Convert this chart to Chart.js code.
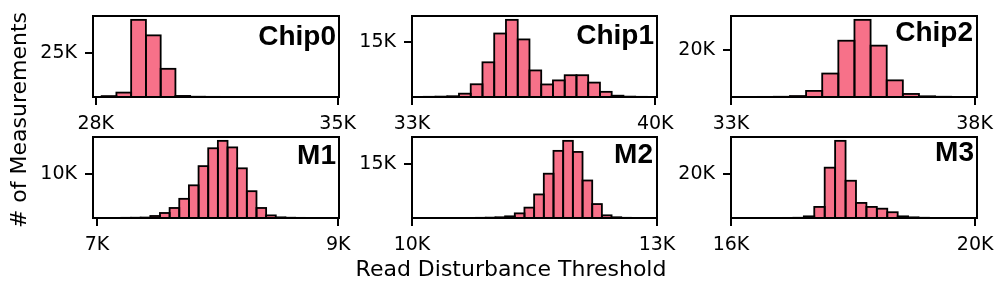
<!DOCTYPE html>
<html><head><meta charset="utf-8">
<script src="https://cdn.jsdelivr.net/npm/chart.js@4.4.1/dist/chart.umd.min.js"></script>
<style>
html,body{margin:0;padding:0;background:#fff;}
#wrap{position:relative;width:997px;height:285px;overflow:hidden;background:#fff;}
#wrap canvas{position:absolute;}
.lbl{position:absolute;font-family:'Liberation Sans',Arial,sans-serif;font-weight:bold;font-size:28px;line-height:28px;white-space:nowrap;color:#000;}
.ttl{position:absolute;font-family:'DejaVu Sans',sans-serif;font-size:22px;line-height:22px;white-space:nowrap;color:#000;text-align:center;}
</style></head>
<body><div id="wrap"></div>
<script>
// ---------- data (thresholds in K, counts = # of measurements) ----------
const panelNames = ['Chip0', 'Chip1', 'Chip2', 'M1', 'M2', 'M3'];

const chip0Bins = [28.384, 28.811, 29.238, 29.665, 30.092, 30.519, 30.946, 31.373, 31.800, 32.227, 32.654, 33.081, 33.508, 33.935, 34.362, 34.789];
const chip0Counts = [500, 2500, 43800, 35000, 16000, 600, 150, 80, 60, 40, 30, 20, 15, 10, 8, 5];
const chip0XTicks = [28, 35];
const chip0YTicks = [25000];

const chip1Bins = [33.169, 33.507, 33.845, 34.183, 34.521, 34.859, 35.197, 35.535, 35.873, 36.211, 36.549, 36.887, 37.225, 37.563, 37.901, 38.239, 38.577, 38.915, 39.253, 39.591];
const chip1Counts = [20, 50, 100, 200, 900, 3450, 9400, 17200, 20900, 15600, 7200, 3400, 4500, 5900, 5900, 3900, 1400, 350, 100, 40];
const chip1XTicks = [33, 40];
const chip1YTicks = [15000];

const chip2Bins = [33.383, 33.714, 34.045, 34.376, 34.707, 35.038, 35.369, 35.700, 36.031, 36.362, 36.693, 37.024, 37.355, 37.686];
const chip2Counts = [20, 50, 100, 400, 2600, 10000, 24000, 32900, 21900, 7100, 1300, 300, 100, 30];
const chip2XTicks = [33, 38];
const chip2YTicks = [20000];

const m1Bins = [7.082, 7.162, 7.242, 7.322, 7.402, 7.482, 7.562, 7.642, 7.722, 7.802, 7.882, 7.962, 8.042, 8.122, 8.202, 8.282, 8.362, 8.442, 8.522, 8.602, 8.682, 8.762, 8.842];
const m1Counts = [10, 20, 40, 60, 100, 460, 1150, 2300, 4400, 7500, 11900, 16000, 17700, 16200, 11400, 6150, 2300, 600, 150, 60, 30, 15, 5];
const m1XTicks = [7, 9];
const m1YTicks = [10000];

const m2Bins = [10.2513, 10.3698, 10.4883, 10.6068, 10.7253, 10.8438, 10.9623, 11.0808, 11.1993, 11.3178, 11.4363, 11.5548, 11.6733, 11.7918, 11.9103, 12.0288, 12.1473, 12.2658, 12.3843, 12.5028, 12.6213];
const m2Counts = [5, 10, 15, 20, 30, 50, 100, 200, 470, 1300, 2900, 6600, 12400, 18800, 21600, 18500, 10500, 3900, 750, 200, 50];
const m2XTicks = [10, 13];
const m2YTicks = [15000];

const m3Bins = [16.7664, 16.9372, 17.1080, 17.2788, 17.4496, 17.6204, 17.7912, 17.9620, 18.1328, 18.3036, 18.4744, 18.6452, 18.8160, 18.9868, 19.1576];
const m3Counts = [20, 50, 100, 750, 5000, 22700, 34800, 16800, 6800, 5000, 4200, 2600, 750, 300, 100];
const m3XTicks = [16, 20];
const m3YTicks = [20000];

const xAxisTitle = 'Read Disturbance Threshold';
const yAxisTitle = '# of Measurements';

// ---------- layout / style ----------
const colLeft = [93, 412, 731], colRight = [339, 657, 977];
const rowTop = [16, 137], rowBottom = [97, 218];
const PADL = 80, PADT = 26, PADR = 38, PADB = 42;
const TICK_LEN = 8;
const BAR_COLOR = '#F77189';

const panels = [
  {name: panelNames[0], bins: chip0Bins, counts: chip0Counts, xTicks: chip0XTicks, yTicks: chip0YTicks, xMin: 27.92, xMax: 35.04, col: 0, row: 0, lblRight: 336, lblBase: 46},
  {name: panelNames[1], bins: chip1Bins, counts: chip1Counts, xTicks: chip1XTicks, yTicks: chip1YTicks, xMin: 33.0, xMax: 40.05, col: 1, row: 0, lblRight: 654, lblBase: 45},
  {name: panelNames[2], bins: chip2Bins, counts: chip2Counts, xTicks: chip2XTicks, yTicks: chip2YTicks, xMin: 33.0, xMax: 38.05, col: 2, row: 0, lblRight: 973, lblBase: 42},
  {name: panelNames[3], bins: m1Bins, counts: m1Counts, xTicks: m1XTicks, yTicks: m1YTicks, xMin: 6.967, xMax: 9.006, col: 0, row: 1, lblRight: 336, lblBase: 165},
  {name: panelNames[4], bins: m2Bins, counts: m2Counts, xTicks: m2XTicks, yTicks: m2YTicks, xMin: 10.0, xMax: 13.0, col: 1, row: 1, lblRight: 653, lblBase: 164},
  {name: panelNames[5], bins: m3Bins, counts: m3Counts, xTicks: m3XTicks, yTicks: m3YTicks, xMin: 16.0, xMax: 20.03, col: 2, row: 1, lblRight: 974, lblBase: 162}
];

function makeOutlinePlugin(p) {
  return {
    id: 'outline',
    afterDatasetsDraw(chart) {
      const ctx = chart.ctx, a = chart.chartArea;
      // bar edges (centred on the bar outline, like a histogram edge)
      ctx.save();
      ctx.beginPath();
      ctx.rect(a.left, a.top - 2, a.right - a.left, a.bottom - a.top + 2);
      ctx.clip();
      ctx.lineWidth = 1.8;
      ctx.strokeStyle = '#000';
      chart.getDatasetMeta(0).data.forEach(el => {
        const q = el.getProps(['x', 'y', 'base', 'width'], true);
        ctx.strokeRect(q.x - q.width / 2, q.y, q.width, q.base - q.y);
      });
      ctx.restore();
    },
    afterDraw(chart) {
      const ctx = chart.ctx, a = chart.chartArea;
      ctx.save();
      ctx.lineWidth = 2;
      ctx.strokeStyle = '#000';
      ctx.strokeRect(a.left, a.top, a.right - a.left, a.bottom - a.top);
      const xs = chart.scales.x, ys = chart.scales.y;
      ctx.fillStyle = '#000';
      p.xTicks.forEach(v => {
        const px = Math.round(xs.getPixelForValue(v));
        ctx.fillRect(px - 1, a.bottom, 2, TICK_LEN);
      });
      p.yTicks.forEach(v => {
        const py = Math.round(ys.getPixelForValue(v));
        ctx.fillRect(a.left - TICK_LEN, py - 1, TICK_LEN, 2);
      });
      ctx.restore();
    }
  };
}

const wrap = document.getElementById('wrap');
const tickFont = {family: "'DejaVu Sans', sans-serif", size: 19};

panels.forEach(p => {
  const L = colLeft[p.col], R = colRight[p.col], T = rowTop[p.row], B = rowBottom[p.row];
  const w = R - L + PADL + PADR, h = B - T + PADT + PADB;
  const cv = document.createElement('canvas');
  cv.width = w; cv.height = h;
  cv.style.left = (L - PADL) + 'px';
  cv.style.top = (T - PADT) + 'px';
  cv.style.width = w + 'px';
  cv.style.height = h + 'px';
  wrap.appendChild(cv);

  new Chart(cv, {
    type: 'bar',
    data: {
      datasets: [{
        data: p.bins.map((b, i) => ({x: b, y: p.counts[i]})),
        backgroundColor: BAR_COLOR,
        borderWidth: 0,
        barPercentage: 1,
        categoryPercentage: 1
      }]
    },
    options: {
      responsive: false,
      animation: false,
      devicePixelRatio: 1,
      layout: {padding: {left: 0, top: PADT, right: PADR, bottom: 0}},
      plugins: {legend: {display: false}, tooltip: {enabled: false}},
      scales: {
        x: {
          type: 'linear', min: p.xMin, max: p.xMax, offset: false,
          afterBuildTicks: s => { s.ticks = p.xTicks.map(v => ({value: v})); },
          afterFit: s => { s.height = PADB; },
          ticks: {callback: v => v + 'K', font: tickFont, color: '#000', padding: 8, maxRotation: 0, autoSkip: false},
          grid: {display: false, offset: false, drawOnChartArea: false, drawTicks: true, tickLength: TICK_LEN},
          border: {display: false}
        },
        y: {
          min: 0, max: Math.max(...p.counts) * 1.05,
          afterBuildTicks: s => { s.ticks = p.yTicks.map(v => ({value: v})); },
          afterFit: s => { s.width = PADL; },
          ticks: {callback: v => (v / 1000) + 'K', font: tickFont, color: '#000', padding: 8, autoSkip: false},
          grid: {display: false, offset: false, drawOnChartArea: false, drawTicks: true, tickLength: TICK_LEN},
          border: {display: false}
        }
      }
    },
    plugins: [makeOutlinePlugin(p)]
  });

  const d = document.createElement('div');
  d.className = 'lbl';
  d.textContent = p.name;
  d.style.right = (997 - p.lblRight) + 'px';
  d.style.top = (p.lblBase - 23.7) + 'px';
  wrap.appendChild(d);
});

const xt = document.createElement('div');
xt.className = 'ttl';
xt.textContent = xAxisTitle;
xt.style.left = (511 - 200) + 'px';
xt.style.width = '400px';
xt.style.top = (277 - 18.6) + 'px';
wrap.appendChild(xt);

const yt = document.createElement('div');
yt.className = 'ttl';
yt.textContent = yAxisTitle;
yt.style.width = '300px';
yt.style.height = '22px';
yt.style.left = (19.4 - 150) + 'px';
yt.style.top = (120 - 11) + 'px';
yt.style.transform = 'rotate(-90deg)';
wrap.appendChild(yt);
</script>
</body></html>
